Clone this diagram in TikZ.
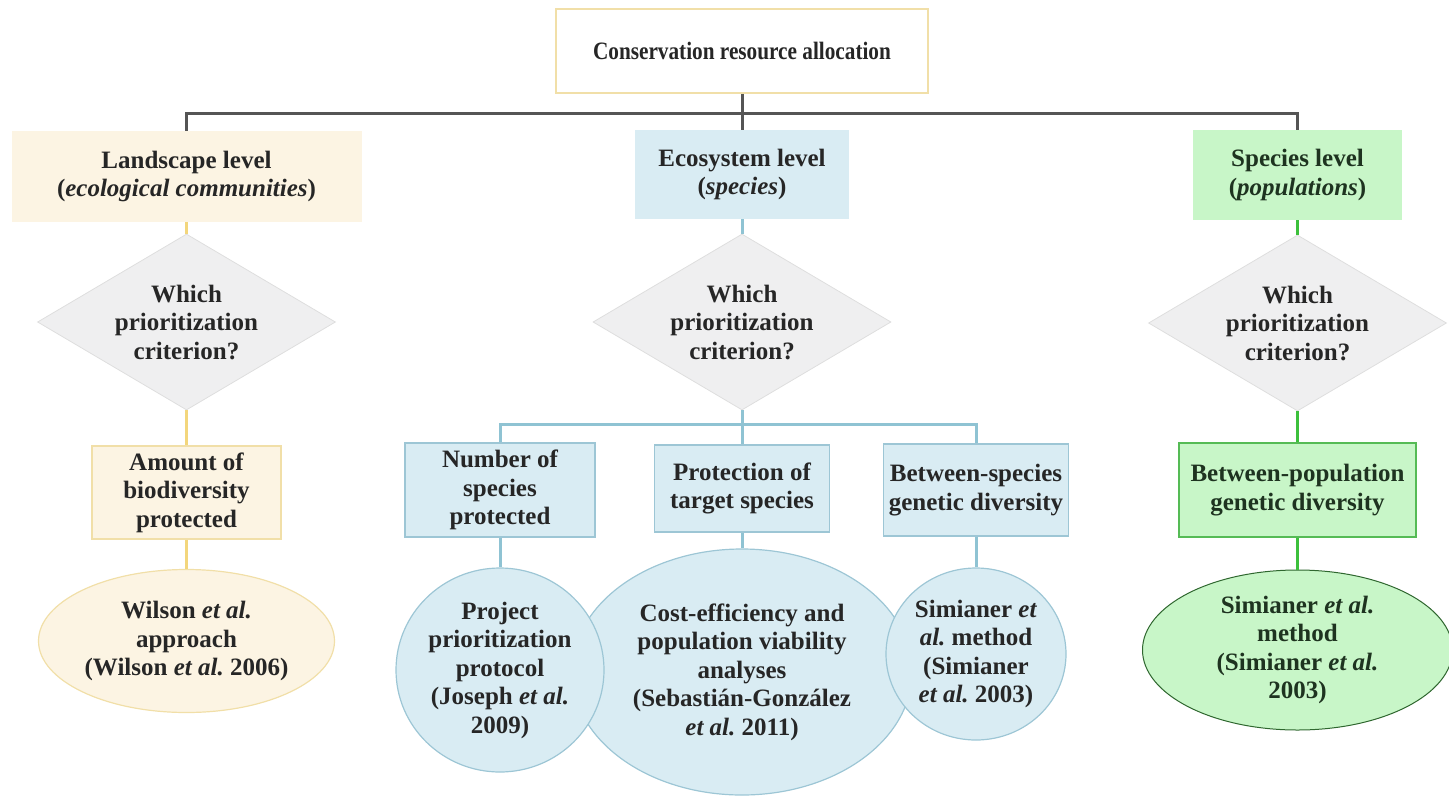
\documentclass[tikz,border=0pt]{standalone}
\usepackage{fontspec}
\setmainfont{Liberation Serif}
\newfontfamily\titlefont[FakeStretch=0.85]{Liberation Serif}
\usetikzlibrary{shapes.geometric}
\frenchspacing
\definecolor{txt}{HTML}{262626}
\definecolor{txtg}{HTML}{1E3320}
\definecolor{grline}{HTML}{555555}
\definecolor{ylline}{HTML}{F3D67C}
\definecolor{blline}{HTML}{8FC3D3}
\definecolor{gnline}{HTML}{3CC03C}
\definecolor{landfill}{HTML}{FCF4E3}
\definecolor{landdraw}{HTML}{F1DFA8}
\definecolor{bluefill}{HTML}{D9ECF3}
\definecolor{bluedraw}{HTML}{9DC6D5}
\definecolor{greenfill}{HTML}{C8F6C8}
\definecolor{greendraw}{HTML}{55BB55}
\definecolor{diafill}{HTML}{EFEFF0}
\definecolor{diadraw}{HTML}{DEDEDE}
\begin{document}
\begin{tikzpicture}[x=1pt,y=-1pt,
  every node/.style={font=\fontsize{25}{28.5}\selectfont\bfseries, text=txt, align=center, inner sep=0pt},
  topbox/.style={draw=landdraw, line width=1.5pt, fill=white},
  landbox/.style={fill=landfill},
  ambox/.style={fill=landfill, draw=landdraw, line width=1.5pt},
  ecobox/.style={fill=bluefill},
  bbox/.style={fill=bluefill, draw=bluedraw, line width=1.5pt},
  specbox/.style={fill=greenfill, text=txtg},
  gbox/.style={fill=greenfill, draw=greendraw, line width=1.5pt, text=txtg},
  dia/.style={diamond, aspect=1.69, fill=diafill, draw=diadraw, line width=0.8pt, minimum width=298, minimum height=176},
  yell/.style={ellipse, fill=landfill, draw=landdraw, line width=1.2pt},
  bell/.style={ellipse, fill=bluefill, draw=bluedraw, line width=1.2pt},
  gell/.style={ellipse, fill=greenfill, draw=greendraw!55!black, line width=1pt, text=txtg},
  gr/.style={draw=grline, line width=3pt},
  yl/.style={draw=ylline, line width=2.5pt},
  bl/.style={draw=blline, line width=3pt},
  gn/.style={draw=gnline, line width=3pt}]
\useasboundingbox (0,0) rectangle (1449,796);

% top
\node[topbox, minimum width=372, minimum height=84] (top) at (742,51) {\titlefont\bfseries Conservation resource allocation};
\coordinate (bus1) at (742,113);

% level boxes
\node[landbox, minimum width=350, minimum height=91] (land) at (186.5,176.5) {Landscape level\\(\textit{ecological communities})};
\node[ecobox, minimum width=214, minimum height=89] (eco) at (742,174.5) {Ecosystem level\\(\textit{species})};
\node[specbox, minimum width=209, minimum height=90] (spec) at (1297.5,175) {Species level\\(\textit{populations})};

% diamonds
\node[dia] (d1) at (186.5,322) {Which\\prioritization\\criterion?};
\node[dia] (d2) at (742,322) {Which\\prioritization\\criterion?};
\node[dia] (d3) at (1297.5,323) {Which\\prioritization\\criterion?};

% criteria boxes
\node[ambox, minimum width=189, minimum height=93] (amt) at (186.5,492.5) {Amount of\\biodiversity\\protected};
\node[bbox, minimum width=190, minimum height=94] (num) at (500,490) {Number of\\species\\protected};
\node[bbox, minimum width=175, minimum height=87] (prot) at (742,488.5) {Protection of\\target species};
\node[bbox, minimum width=185, minimum height=92] (btw) at (976,490) {Between-species\\genetic diversity};
\node[gbox, minimum width=237, minimum height=94] (bpop) at (1297.5,490) {Between-population\\genetic diversity};
\coordinate (bus2) at (742,424);

% methods
\node[yell, minimum width=296, minimum height=143] (wil) at (186.5,641) {Wilson \textit{et al.}\\approach\\(Wilson \textit{et al.} 2006)};
\node[bell, minimum width=340, minimum height=246] (cost) at (742,672) {Cost-efficiency and\\population viability\\analyses\\(Sebasti\'an-Gonz\'alez\\\textit{et al.} 2011)};
\node[bell, minimum width=208, minimum height=204] (proj) at (500,670) {Project\\prioritization\\protocol\\(Joseph \textit{et al.}\\2009)};
\node[bell, minimum width=180, minimum height=172] (sim) at (976,654) {Simianer \textit{et}\\\textit{al.} method\\(Simianer\\\textit{et al.} 2003)};
\node[gell, minimum width=310, minimum height=160] (simp) at (1297.5,650) {Simianer \textit{et al.}\\method\\(Simianer \textit{et al.}\\2003)};

% connectors
\draw[gr] (top) -- (eco);
\draw[gr] (land.north) |- (bus1) -| (spec.north);

\draw[yl] (land) -- (d1);
\draw[yl] (d1) -- (amt);
\draw[yl] (amt) -- (wil);

\draw[bl] (eco) -- (d2);
\draw[bl] (d2.south) -- (prot.north);
\draw[bl] (num.north) |- (bus2) -| (btw.north);
\draw[bl] (num) -- (proj);
\draw[bl] (prot) -- (cost);
\draw[bl] (btw) -- (sim);

\draw[gn] (spec) -- (d3);
\draw[gn] (d3) -- (bpop);
\draw[gn] (bpop) -- (simp);
\end{tikzpicture}
\end{document}
